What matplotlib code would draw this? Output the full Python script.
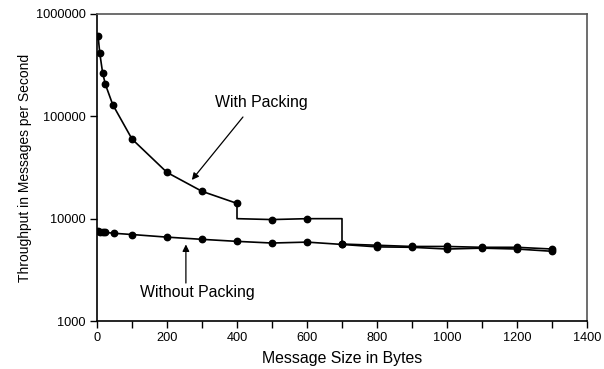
import matplotlib
matplotlib.use("Agg")
import matplotlib.pyplot as plt

plt.rcParams['font.family'] = ['Liberation Sans', 'DejaVu Sans']

# With Packing series (main curve, then step segment, then tail)
wp_x = [3, 8, 16, 24, 45, 100, 200, 300, 400]
wp_y = [614000, 413000, 267000, 205000, 130000, 60000, 28300, 18500, 14100]
step_x = [400, 400, 500, 600, 700, 700]
step_y = [14100, 10000, 9800, 10000, 10000, 5650]
step_marked_x = [500, 600]
step_marked_y = [9800, 10000]
tail_x = [700, 800, 900, 1000, 1100, 1200, 1300]
tail_y = [5650, 5500, 5350, 5350, 5250, 5250, 5050]

# Without Packing series
np_x = [3, 8, 16, 24, 48, 100, 200, 300, 400, 500, 600, 700, 800, 900, 1000, 1100, 1200, 1300]
np_y = [7500, 7450, 7400, 7350, 7200, 7000, 6600, 6280, 6000, 5780, 5900, 5600, 5300, 5250, 5050, 5150, 5050, 4800]

x_ticks = [0, 200, 400, 600, 800, 1000, 1200, 1400]
y_ticks = [1000, 10000, 100000, 1000000]
y_tick_labels = ['1000', '10000', '100000', '1000000']

fig = plt.figure(figsize=(6.04, 3.69), dpi=100)
ax = fig.add_axes([97/604, 1 - 321/369, 490/604, 307/369])

lw = 1.2
ms = 4.6
ax.plot(wp_x, wp_y, color='black', lw=lw, marker='o', ms=ms)
ax.plot(step_x, step_y, color='black', lw=lw)
ax.plot(step_marked_x, step_marked_y, color='black', lw=0, marker='o', ms=ms)
ax.plot(tail_x, tail_y, color='black', lw=lw, marker='o', ms=ms)
ax.plot(np_x, np_y, color='black', lw=lw, marker='o', ms=ms)

ax.set_yscale('log')
ax.set_xlim(0, 1400)
ax.set_ylim(1000, 1000000)
ax.set_xticks(x_ticks)
ax.set_xticks(range(0, 1401, 100), minor=True)
ax.set_yticks(y_ticks)
ax.set_yticklabels(y_tick_labels)
ax.yaxis.set_minor_locator(matplotlib.ticker.NullLocator())
ax.tick_params(axis='both', which='both', direction='out', length=5, width=1, labelsize=9.2, pad=3)
ax.tick_params(axis='x', which='minor', labelbottom=False)

for s in ['left', 'bottom']:
    ax.spines[s].set_color('black')
    ax.spines[s].set_linewidth(1.2)
for s in ['top', 'right']:
    ax.spines[s].set_color('#555555')
    ax.spines[s].set_linewidth(1.2)

ax.set_xlabel('Message Size in Bytes', fontsize=11.4, labelpad=5)
ax.set_ylabel('Throughput in Messages per Second', fontsize=10, labelpad=3)

arrow = dict(arrowstyle='-|>', color='black', lw=0.9, mutation_scale=10, shrinkA=0, shrinkB=0)
ax.text(470, 135000, 'With Packing', fontsize=11.4, ha='center', va='center')
ax.annotate('', xy=(271, 23900), xytext=(417, 98500), arrowprops=arrow)
ax.text(286, 1880, 'Without Packing', fontsize=11.4, ha='center', va='center')
ax.annotate('', xy=(254, 5600), xytext=(254, 2350), arrowprops=arrow)

fig.savefig('out.png', dpi=100)
